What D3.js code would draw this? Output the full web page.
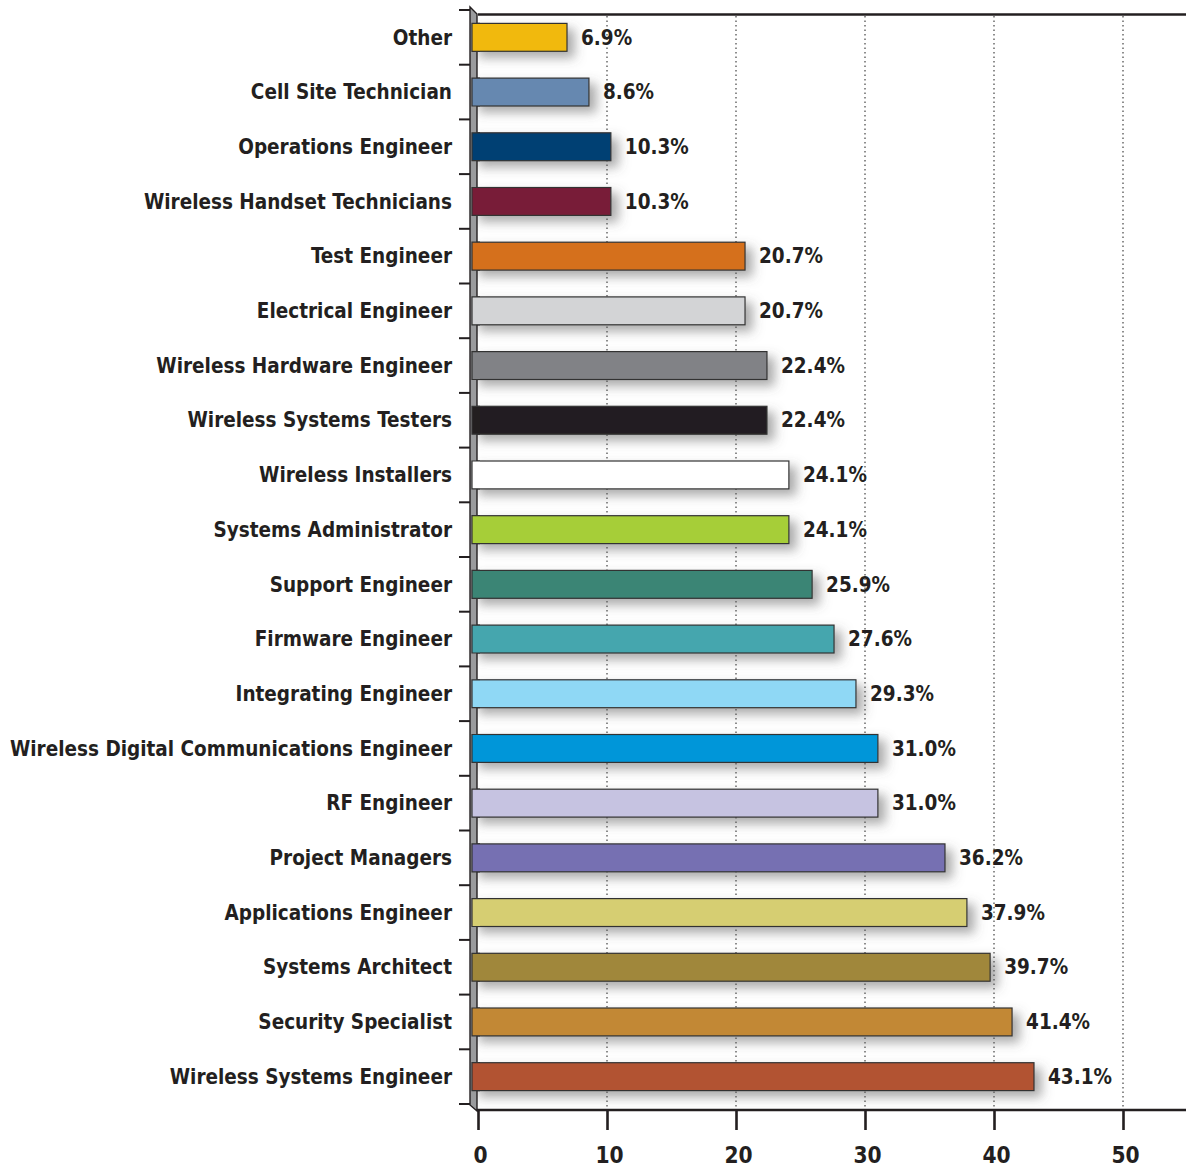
<!DOCTYPE html>
<html><head><meta charset="utf-8">
<script src="https://cdn.jsdelivr.net/npm/d3@7"></script>
<style>
html,body{margin:0;padding:0;background:#fff;}
svg{display:block;}
text{font-family:"DejaVu Sans Condensed","DejaVu Sans",sans-serif;font-weight:bold;fill:#231f20;}
</style></head>
<body>
<svg id="chart" width="1186" height="1168"></svg>
<script>
const categories = ["Other","Cell Site Technician","Operations Engineer","Wireless Handset Technicians","Test Engineer","Electrical Engineer","Wireless Hardware Engineer","Wireless Systems Testers","Wireless Installers","Systems Administrator","Support Engineer","Firmware Engineer","Integrating Engineer","Wireless Digital Communications Engineer","RF Engineer","Project Managers","Applications Engineer","Systems Architect","Security Specialist","Wireless Systems Engineer"];
const values = [6.9,8.6,10.3,10.3,20.7,20.7,22.4,22.4,24.1,24.1,25.9,27.6,29.3,31.0,31.0,36.2,37.9,39.7,41.4,43.1];
const colors = ["#f1b90f","#6688b0","#003f73","#781c37","#d5701b","#d3d4d6","#818286","#231f20","#ffffff","#a6ce39","#3b8575","#45a6ae","#8fd8f5","#0096d9","#c6c3e1","#7670b2","#d6ce72","#a0873a","#c28834","#b25233"];
const xTicks = [0,10,20,30,40,50];

const svg = d3.select("#chart");
const x = d3.scaleLinear().domain([0,55]).range([478,1187.5]);
const y = d3.scaleBand().domain(categories).range([10,1104]).paddingInner(0.49).paddingOuter(0.245);
const wallW = 6;

const defs = svg.append("defs");
const f = defs.append("filter").attr("id","sh").attr("x","-10%").attr("y","-50%").attr("width","130%").attr("height","250%");
f.append("feDropShadow").attr("dx",7).attr("dy",6).attr("stdDeviation",5.5).attr("flood-color","#555").attr("flood-opacity",0.5);

// gridlines (dotted)
svg.append("g").selectAll("line").data(xTicks.filter(d=>d>0)).join("line")
  .attr("x1",d=>x(d)).attr("x2",d=>x(d)).attr("y1",16).attr("y2",1109)
  .attr("stroke","#444").attr("stroke-width",1.2).attr("stroke-dasharray","1.5,3");

// top line
svg.append("line").attr("x1",x(0)).attr("x2",1186).attr("y1",14.5).attr("y2",14.5).attr("stroke","#231f20").attr("stroke-width",2.6);

// bars
svg.append("g").selectAll("rect").data(categories).join("rect")
  .attr("x",x(0)-wallW).attr("y",d=>y(d))
  .attr("width",(d,i)=>x(values[i])-x(0)+wallW).attr("height",y.bandwidth())
  .attr("fill",(d,i)=>colors[i]).attr("stroke","#333").attr("stroke-width",1.2)
  .attr("filter","url(#sh)");

// wall (left axis)
const wall = svg.append("g");
wall.append("path").attr("d",`M${x(0)-8},7 L${x(0)-8},1105 L${x(0)-1},1111 L${x(0)-1},14 Z`)
  .attr("fill","#9a9b9d").attr("stroke","#231f20").attr("stroke-width",1.4);
// redraw bars' left portions over the wall
svg.append("g").selectAll("rect").data(categories).join("rect")
  .attr("x",x(0)-wallW).attr("y",d=>y(d))
  .attr("width",wallW+2).attr("height",y.bandwidth())
  .attr("fill",(d,i)=>colors[i]);
svg.append("g").selectAll("path").data(categories).join("path")
  .attr("d",d=>`M${x(0)+2},${y(d)} H${x(0)-wallW} V${y(d)+y.bandwidth()} H${x(0)+2}`)
  .attr("fill","none").attr("stroke","#333").attr("stroke-width",1.2);

// category ticks on wall
const bounds = categories.map(c=>y(c)-y.step()*y.paddingInner()/2).concat([y(categories[categories.length-1])+y.bandwidth()+y.step()*y.paddingInner()/2]);
svg.append("g").selectAll("line").data(bounds).join("line")
  .attr("x1",x(0)-19).attr("x2",x(0)-8).attr("y1",d=>d).attr("y2",d=>d)
  .attr("stroke","#231f20").attr("stroke-width",2);

// bottom axis
const xAxis = d3.axisBottom(x).tickValues(xTicks).tickSize(20).tickPadding(17).tickFormat(d3.format("d"));
const ax = svg.append("g").attr("transform","translate(0,1110)").call(xAxis);
ax.select(".domain").remove();
ax.append("line").attr("x1",x(0)-1).attr("x2",1186).attr("y1",0).attr("y2",0).attr("stroke","#231f20").attr("stroke-width",2.6);
ax.selectAll(".tick line").attr("stroke","#231f20").attr("stroke-width",2.6);
ax.selectAll(".tick text").attr("font-size",22.5).attr("font-family","DejaVu Sans Condensed").attr("font-weight","bold").attr("fill","#231f20").attr("dx",2);

// category labels
svg.append("g").selectAll("text").data(categories).join("text")
  .attr("x",452).attr("y",d=>y(d)+y.bandwidth()/2).attr("dy","0.35em")
  .attr("text-anchor","end").attr("font-size",20.5).text(d=>d);

// value labels
svg.append("g").selectAll("text").data(categories).join("text")
  .attr("x",(d,i)=>x(values[i])+14).attr("y",d=>y(d)+y.bandwidth()/2).attr("dy","0.35em")
  .attr("font-size",20.5).text((d,i)=>values[i].toFixed(1)+"%");
</script>
</body></html>
